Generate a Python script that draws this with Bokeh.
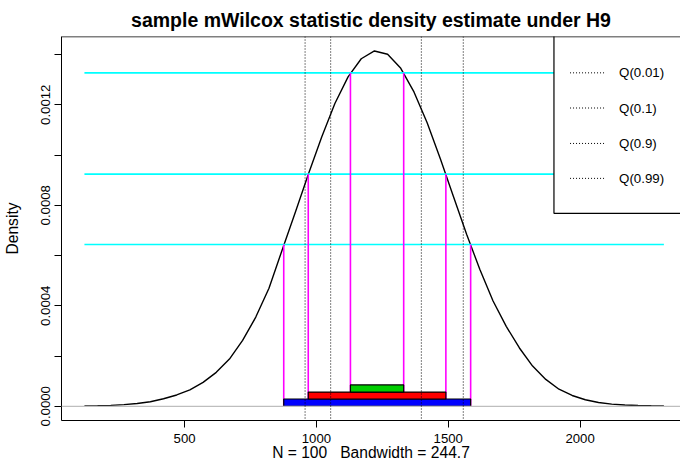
from bokeh.plotting import figure
from bokeh.models import Range1d, FixedTicker, Span
from bokeh.core.properties import value
from bokeh.embed import file_html
from bokeh.resources import INLINE

# ---- data ----
# kernel density estimate (sampled along the curve)
dens_x = [120, 170, 220, 270, 320, 370, 420, 470, 520, 570, 620, 670, 720, 770,
          820, 870, 920, 970, 1020, 1070, 1120, 1170, 1220, 1270, 1320, 1370,
          1420, 1470, 1520, 1570, 1620, 1670, 1720, 1770, 1820, 1870, 1920,
          1970, 2020, 2070, 2120, 2170, 2220, 2270, 2318]
dens_y = [0.0000012, 0.0000020, 0.0000035, 0.0000065, 0.0000110, 0.0000180,
          0.0000300, 0.0000450, 0.0000650, 0.0000950, 0.000135, 0.000188,
          0.000262, 0.000355, 0.000470, 0.000622, 0.000772, 0.000925, 0.001072,
          0.001205, 0.001311, 0.001383, 0.001414, 0.001401, 0.001345, 0.001251,
          0.001128, 0.000985, 0.000834, 0.000684, 0.000544, 0.000419, 0.000318,
          0.000232, 0.000160, 0.000107, 0.000068, 0.000043, 0.000026, 0.000015,
          0.0000085, 0.0000050, 0.0000030, 0.0000020, 0.0000012]

# highest density regions (widest first)
hdr_level = [0.000644, 0.000924, 0.001327]
hdr_lo = [876, 969, 1129]
hdr_hi = [1585, 1491, 1331]
hdr_color = ["#0000FF", "#FF0000", "#00CD00"]
hdr_bar_bottom = [0.0, 0.0000290, 0.0000565]
hdr_bar_top = [0.0000290, 0.0000565, 0.0000848]

# quantiles
q_labels = ["Q(0.01)", "Q(0.1)", "Q(0.9)", "Q(0.99)"]
q_values = [957, 1054, 1398, 1557]

x_ticks = [500, 1000, 1500, 2000]
y_ticks = [0.0, 0.0004, 0.0008, 0.0012]
y_tick_labels = ["0.0000", "0.0004", "0.0008", "0.0012"]
y_minor_ticks = [0.0002, 0.0006, 0.0010, 0.0014]

title_text = "sample mWilcox statistic density estimate under H9"
x_label = "N = 100\u00a0\u00a0\u00a0Bandwidth = 244.7"
y_label = "Density"

FONT = "Liberation Sans"
X0, X1 = 33, 2381
Y0, Y1 = -0.0000566, 0.0014716

p = figure(width=680, height=472, output_backend="svg", toolbar_location=None,
           x_range=Range1d(X0, X1), y_range=Range1d(Y0, Y1),
           min_border_left=60, min_border_right=0, min_border_top=34,
           min_border_bottom=52)
p.outline_line_color = None
p.grid.visible = False
p.background_fill_color = "white"
p.border_fill_color = "white"

# title
p.title.text = title_text
p.title.align = "center"
p.title.text_font = FONT
p.title.text_font_size = "19.5px"
p.title.text_font_style = "bold"
p.title.text_color = "black"
p.title.offset = 13
p.title.standoff = 12

# axes
for ax in (p.xaxis[0], p.yaxis[0]):
    ax.axis_line_color = "black"
    ax.axis_line_width = 1
    ax.major_tick_line_color = "black"
    ax.major_tick_out = 7
    ax.major_tick_in = 0
    ax.major_label_text_font = FONT
    ax.major_label_text_font_size = "13.2px"
    ax.major_label_text_color = "black"
    ax.axis_label_text_font = FONT
    ax.axis_label_text_font_size = "15.6px"
    ax.axis_label_text_font_style = "normal"
    ax.axis_label_text_color = "black"

p.xaxis.ticker = FixedTicker(ticks=x_ticks)
p.xaxis.minor_tick_line_color = None
p.xaxis.axis_label = x_label
p.xaxis.major_label_standoff = 6
p.xaxis.axis_label_standoff = -2

p.yaxis.ticker = FixedTicker(ticks=y_ticks, minor_ticks=y_minor_ticks)
p.yaxis.major_label_overrides = {t: s for t, s in zip(y_ticks, y_tick_labels)}
p.yaxis.major_label_orientation = "vertical"
p.yaxis.minor_tick_line_color = "black"
p.yaxis.minor_tick_out = 7
p.yaxis.minor_tick_in = 0
p.yaxis.axis_label = y_label
p.yaxis.major_label_standoff = 4
p.yaxis.axis_label_standoff = 18

# top border of the box
p.add_layout(Span(location=Y1, dimension="width", line_color="black", line_width=1.5))

# zero line
p.add_layout(Span(location=0, dimension="width", line_color="#BEBEBE", line_width=1.2))

# density curve
p.line(dens_x, dens_y, line_color="black", line_width=1.4)

# HDR level lines
xmin, xmax = min(dens_x), max(dens_x)
p.segment(x0=[xmin] * 3, x1=[xmax] * 3, y0=hdr_level, y1=hdr_level,
          line_color="#00FFFF", line_width=1.6)
p.segment(x0=hdr_lo + hdr_hi, x1=hdr_lo + hdr_hi, y0=[0] * 6, y1=hdr_level + hdr_level,
          line_color="#FF00FF", line_width=1.6)
p.quad(left=hdr_lo, right=hdr_hi, bottom=hdr_bar_bottom, top=hdr_bar_top,
       fill_color=hdr_color, line_color="black", line_width=1.2)

# quantile lines
for q in q_values:
    p.add_layout(Span(location=q, dimension="height", line_color="black",
                      line_width=1, line_dash="1 2"))

# legend (manual, top right)
leg_left, leg_bottom = 1901, 0.000768
leg_rows = [0.001327, 0.001187, 0.001046, 0.000907]
p.quad(left=[leg_left], right=[X1 + 200], bottom=[leg_bottom], top=[Y1 + 0.0002],
       fill_color="white", line_color="black", line_width=1.2)
p.segment(x0=[1962] * 4, x1=[2091] * 4, y0=leg_rows, y1=leg_rows,
          line_color="black", line_width=1, line_dash="1 2")
p.text(x=[2148] * 4, y=leg_rows, text=q_labels, text_font=value(FONT),
       text_font_size="13.3px", text_baseline="middle", text_align="left",
       text_color="black")

open("out.html", "w").write(file_html(p, INLINE))
